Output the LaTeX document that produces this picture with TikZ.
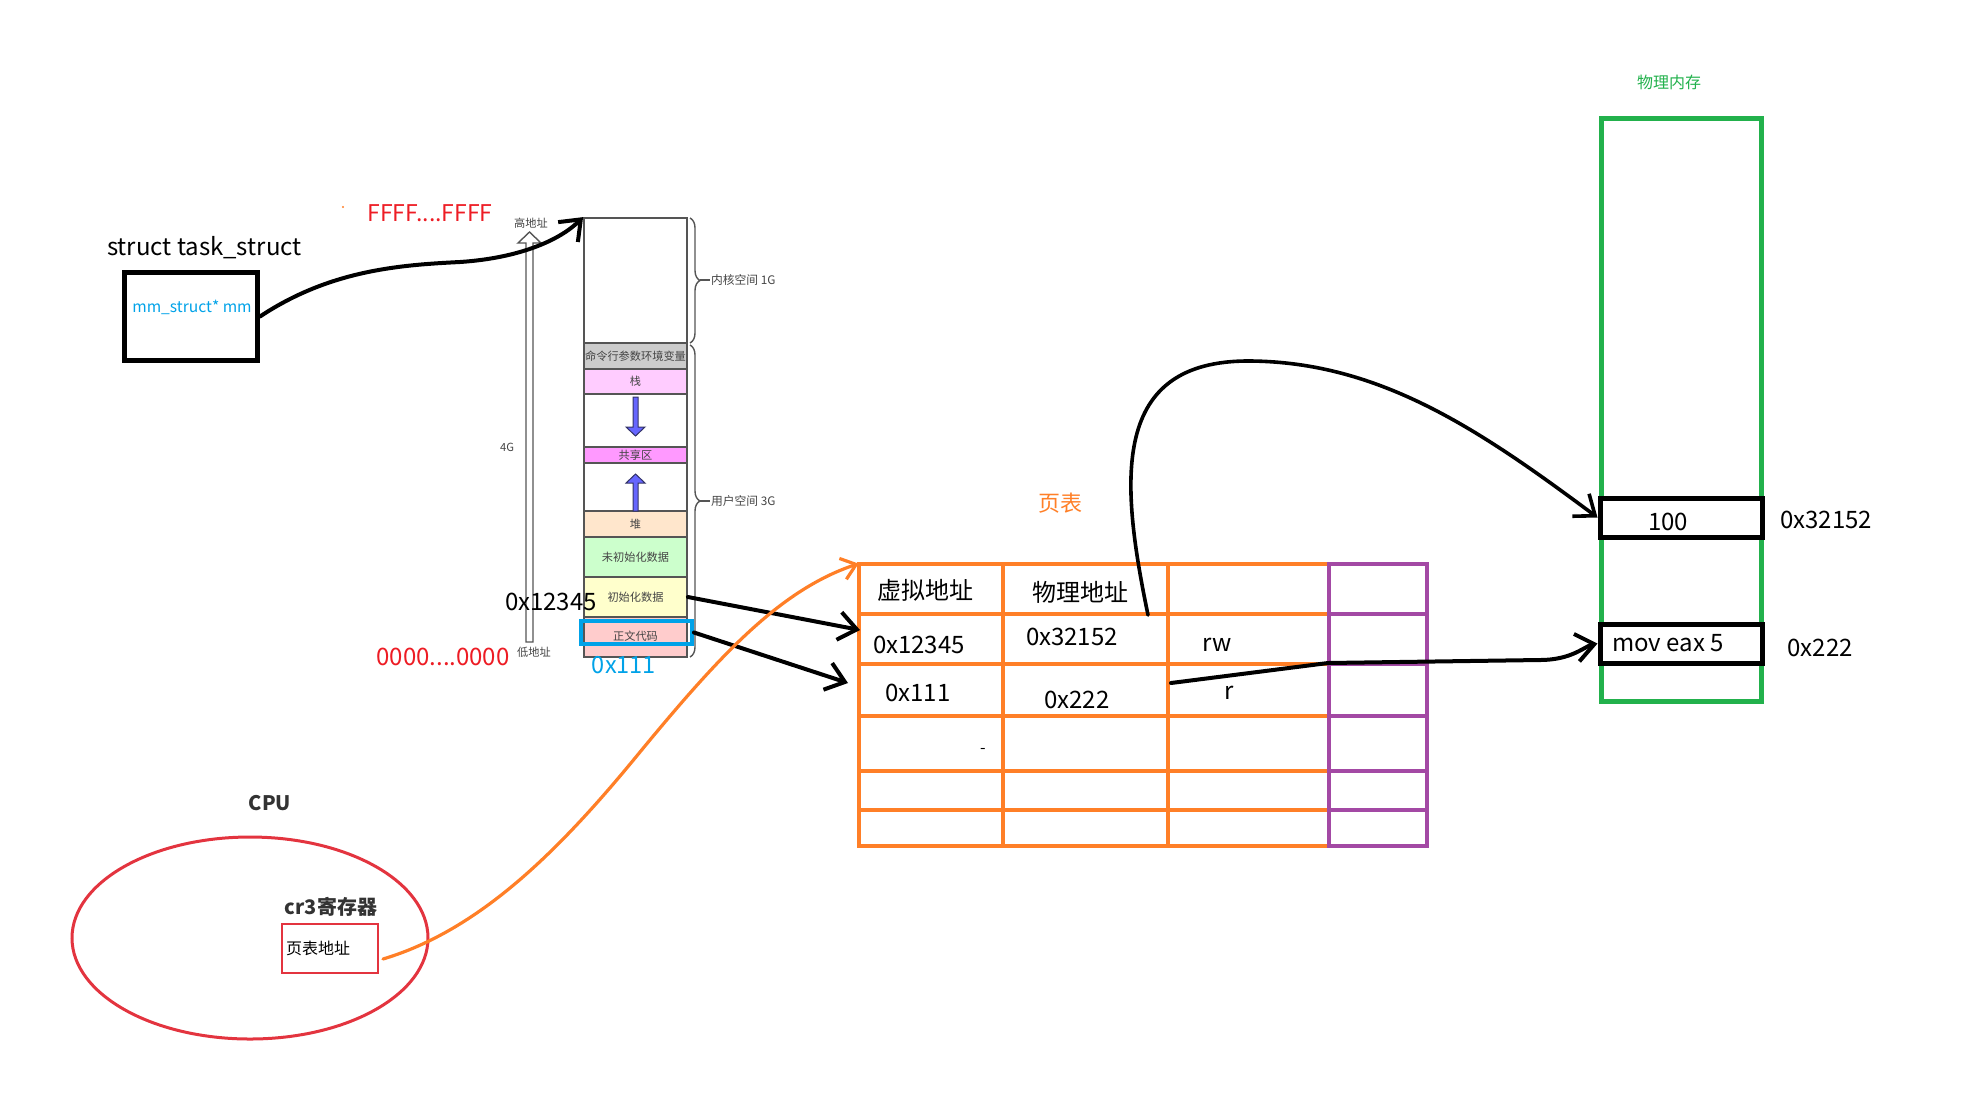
\documentclass[tikz,border=0pt]{standalone}
\usepackage{fontspec}
\setmainfont{Noto Sans CJK SC}
\usetikzlibrary{arrows.meta,decorations.pathreplacing,shapes.geometric}
\definecolor{pOrange}{HTML}{FF7F27}
\definecolor{pPurple}{HTML}{A349A4}
\definecolor{pGreen}{HTML}{22B14C}
\definecolor{pRed}{HTML}{ED1C24}
\definecolor{pBlue}{HTML}{00A2E8}
\definecolor{cpuRed}{HTML}{E3343F}
\definecolor{segline}{HTML}{555555}
\definecolor{segtext}{HTML}{444444}
\definecolor{cgray}{HTML}{CCCCCC}
\definecolor{cstack}{HTML}{FFCCFF}
\definecolor{cshare}{HTML}{FF99FF}
\definecolor{cheap}{HTML}{FFE6CC}
\definecolor{cbss}{HTML}{CCFFCC}
\definecolor{cdata}{HTML}{FFFFCC}
\definecolor{ctext}{HTML}{FFCCCC}
\definecolor{arrowblue}{HTML}{6666FF}
\definecolor{arrowdark}{HTML}{333366}
\definecolor{cpugray}{HTML}{333333}
\begin{document}
\begin{tikzpicture}[x=0.5pt,y=-0.5pt,
  txt/.style={inner sep=0pt, outer sep=0pt},
  big/.style={txt, font=\fontsize{12}{14}\selectfont},
  tiny/.style={txt, font=\fontsize{5.6}{6.5}\selectfont, text=segtext},
  seg/.style={draw=segline, line width=0.9pt, minimum width=51.5pt, inner sep=0pt,
              font=\fontsize{5.6}{6.5}\selectfont, text=segtext},
  barb/.style={-{Straight Barb[length=9pt,width=14pt]}},
  obarb/.style={-{Straight Barb[length=7pt,width=11pt]}},
  conn/.style={line width=2pt, black, line cap=round},
  oline/.style={draw=pOrange, line width=2pt},
  vline/.style={draw=pPurple, line width=2pt},
  brc/.style={draw=segline, line width=0.7pt, decorate, decoration={brace, amplitude=5pt}},
]
\useasboundingbox (0,0) rectangle (1984,1104);

% ---------- task_struct ----------
\node[big, anchor=base west] (tsl) at (107,255) {struct task\_struct};
\node[draw=black, line width=2.5pt, minimum width=66.5pt, minimum height=44pt, inner sep=0pt] (ts) at (191,316.5) {};
\node[txt, font=\fontsize{7.8}{9}\selectfont, text=pBlue] (mm) at (192,307) {mm\_struct* mm};

\fill[pOrange] (343,207) circle (0.6pt);
\node[txt, font=\fontsize{11.5}{13}\selectfont, text=pRed] (ff) at (430,213) {FFFF....FFFF};
\node[txt, font=\fontsize{12}{14}\selectfont, text=pRed] (zz) at (443,657) {0000....0000};

% ---------- 4G address arrow ----------
\filldraw[fill=white, draw=segline, line width=0.7pt]
  (526,642) -- (526,243) -- (518,243) -- (529.5,232) -- (541,243) -- (533,243) -- (533,642) -- cycle;
\node[tiny] (hi) at (531,223) {高地址};
\node[tiny] (lo) at (534,652) {低地址};
\node[tiny] (g4) at (507,447) {4G};

% ---------- memory layout column ----------
\node[seg, fill=white, minimum height=62.5pt] (kern) at (635.5,280.5) {};
\node[seg, fill=cgray, minimum height=13pt] (args) at (635.5,356) {命令行参数环境变量};
\node[seg, fill=cstack, minimum height=12.5pt] (stack) at (635.5,381.5) {栈};
\node[seg, fill=white, minimum height=26.5pt] (gap1) at (635.5,420.5) {};
\node[seg, fill=cshare, minimum height=8pt] (share) at (635.5,455) {共享区};
\node[seg, fill=white, minimum height=24pt] (gap2) at (635.5,487) {};
\node[seg, fill=cheap, minimum height=13pt] (heap) at (635.5,524) {堆};
\node[seg, fill=cbss, minimum height=20pt] (bss) at (635.5,557) {未初始化数据};
\node[seg, fill=cdata, minimum height=20pt] (data) at (635.5,597) {初始化数据};
\node[seg, fill=ctext, minimum height=20pt] (code) at (635.5,637) {};
\node[tiny] (codet) at (635.5,636) {正文代码};
\node[draw=pBlue, line width=2pt, minimum width=55.5pt, minimum height=11.5pt, inner sep=0pt] (hl) at (636.5,632.5) {};

\filldraw[fill=arrowblue, draw=arrowdark, line width=0.5pt]
  (633,397) -- (638,397) -- (638,427) -- (645,427) -- (635.5,436) -- (626,427) -- (633,427) -- cycle;
\filldraw[fill=arrowblue, draw=arrowdark, line width=0.5pt]
  (633,511) -- (638,511) -- (638,483) -- (645,483) -- (635.5,474) -- (626,483) -- (633,483) -- cycle;

\draw[brc] (690,218) -- (690,343);
\draw[brc] (690,345) -- (690,657);
\node[tiny, anchor=west, font=\fontsize{5.9}{7}\selectfont] (klbl) at (711,280) {内核空间 1G};
\node[tiny, anchor=west, font=\fontsize{5.9}{7}\selectfont] (ulbl) at (711,501) {用户空间 3G};
\draw[segline, line width=0.7pt] (700,280) -- (710,280);
\draw[segline, line width=0.7pt] (700,501) -- (710,501);

\node[big] (va1) at (551,602) {0x12345};
\node[txt, font=\fontsize{11.8}{14}\selectfont, text=pBlue] (va2) at (624,665) {0x111};

% ---------- page table ----------
\node[txt, font=\fontsize{11}{13}\selectfont, text=pOrange] (ptl) at (1060,503) {页表};
\node[minimum width=284pt, minimum height=141pt, inner sep=0pt] (tbl) at (1143,705) {};
\foreach \yy in {614,664,716,771,810} \draw[oline] (859,\yy) -- (1329,\yy);
\foreach \xx in {1003,1168} \draw[oline] (\xx,564) -- (\xx,846);
\draw[oline] (859,564) rectangle (1329,846);
\foreach \yy in {614,664,716,771,810} \draw[vline] (1329,\yy) -- (1427,\yy);
\draw[vline] (1329,564) rectangle (1427,846);

\node[big] (h1) at (925,590) {虚拟地址};
\node[big] (h2) at (1080,592) {物理地址};
\node[big] (r1a) at (919,645) {0x12345};
\node[big] (r1b) at (1072,637) {0x32152};
\node[big] (r1c) at (1217,645) {rw};
\node[big] (r2a) at (918,693) {0x111};
\node[big] (r2b) at (1077,700) {0x222};
\node[big] (r2c) at (1229,693) {r};
\node[txt, font=\fontsize{8}{9}\selectfont] (dash) at (983,751) {-};

% ---------- physical memory ----------
\node[txt, font=\fontsize{8}{9}\selectfont, text=pGreen] (pml) at (1669,82) {物理内存};
\node[draw=pGreen, line width=2.5pt, minimum width=80pt, minimum height=291.5pt, inner sep=0pt] (pm) at (1681,409.5) {};
\node[draw=black, fill=white, line width=2.5pt, minimum width=81pt, minimum height=19.5pt, inner sep=0pt] (m100) at (1681,517.5) {};
\node[big] (v100) at (1668,522) {100};
\node[draw=black, fill=white, line width=2.5pt, minimum width=81pt, minimum height=19.5pt, inner sep=0pt] (mov) at (1681,643.5) {};
\node[big, anchor=west] (vmov) at (1612,643) {mov eax 5};
\node[big] (a1) at (1826,520) {0x32152};
\node[big] (a2) at (1820,648) {0x222};

% ---------- CPU ----------
\node[txt, font=\bfseries\fontsize{10}{12}\selectfont, text=cpugray] (cpul) at (270,803) {CPU};
\node[draw=cpuRed, line width=1.5pt, ellipse, minimum width=178pt, minimum height=101pt, inner sep=0pt] (cpu) at (250,938) {};
\node[txt, font=\bfseries\fontsize{10}{12}\selectfont, text=cpugray] (cr3l) at (331,907) {cr3寄存器};
\node[draw=cpuRed, line width=1.3pt, minimum width=48pt, minimum height=24.5pt, inner sep=0pt] (cr3) at (330,948.5) {};
\node[txt, font=\fontsize{8}{10}\selectfont, anchor=west] (cr3t) at (286,948) {页表地址};

% ---------- connectors ----------
\coordinate (row2in) at (860,630);
\coordinate (row3in) at (848,683);
\coordinate (ostart) at (383,959);
\coordinate (pastart) at (1148,615);
\coordinate (rstart) at (1171,683);

\draw[conn, barb] (ts.east) .. controls (330,270) and (400,265) .. (460,262)
  .. controls (520,258) and (560,240) .. (kern.north west);
\draw[conn, barb] (data.east) -- (row2in);
\draw[conn, barb] (hl.east) -- (row3in);
\draw[pOrange, line width=1.6pt, line cap=round, obarb] (ostart)
  .. controls (480,930) and (560,850) .. (640,752)
  .. controls (720,655) and (780,590) .. (tbl.north west);
\draw[line width=1.8pt, black, line cap=round, barb] (pastart)
  .. controls (1120,480) and (1110,360) .. (1250,361)
  .. controls (1380,362) and (1480,430) .. (m100.west);
\draw[conn, barb] (rstart) -- (1328,663) -- (1540,660)
  .. controls (1572,660) and (1585,646) .. (mov.west);
\end{tikzpicture}
\end{document}
